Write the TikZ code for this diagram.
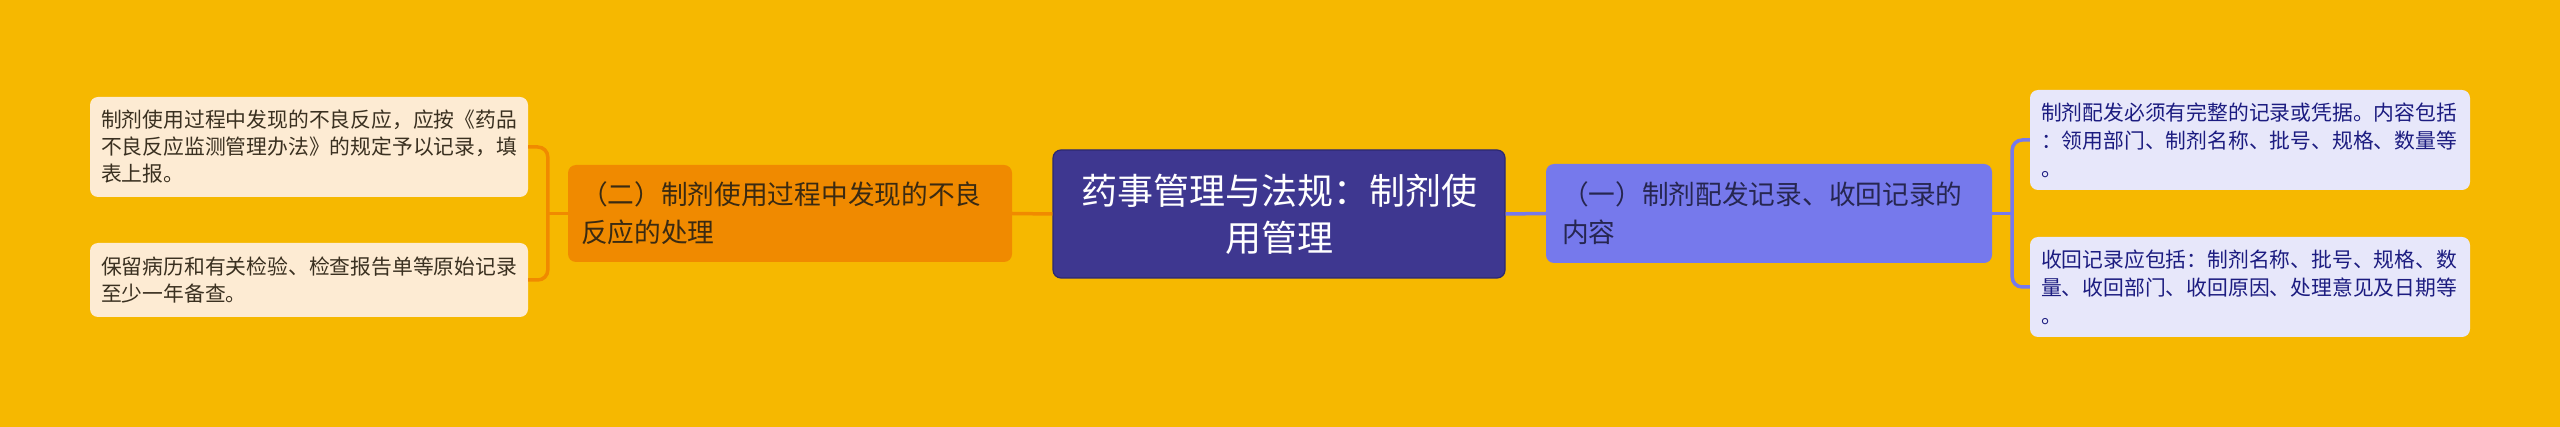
\documentclass[tikz,border=0pt]{standalone}
\usepackage{fontspec}
\setmainfont{Noto Sans CJK SC}
\definecolor{bgc}{HTML}{F6B800}
\definecolor{centralc}{HTML}{3E3790}
\definecolor{centralb}{HTML}{2C2870}
\definecolor{orangec}{HTML}{F08A00}
\definecolor{purplec}{HTML}{7679EC}
\definecolor{lleafc}{HTML}{FDEBD3}
\definecolor{rleafc}{HTML}{E7E7FA}
\definecolor{otext}{HTML}{3A2A12}
\definecolor{ptext}{HTML}{262650}
\definecolor{rtext}{HTML}{1C1C80}
\definecolor{ltext}{HTML}{3A3020}
\begin{document}
\begin{tikzpicture}[x=1pt,y=-1pt,
  basebox/.style={rectangle, rounded corners=8pt, inner ysep=0pt, anchor=center},
  centralbox/.style={basebox, fill=centralc, draw=centralb, line width=1.2pt, text=white,
    inner xsep=10pt, text width=432pt, minimum height=128pt, align=center,
    font=\fontsize{36pt}{47pt}\selectfont},
  orangebox/.style={basebox, fill=orangec, text=otext, inner xsep=13pt, text width=418pt,
    minimum height=97pt, align=left, font=\fontsize{26.7pt}{38pt}\selectfont},
  purplebox/.style={basebox, fill=purplec, text=ptext, inner xsep=16pt, text width=414pt,
    minimum height=99pt, align=left, font=\fontsize{26.7pt}{38pt}\selectfont},
  lleaf/.style={basebox, fill=lleafc, text=ltext, inner xsep=11pt, text width=416pt,
    align=left, font=\fontsize{20.8pt}{27pt}\selectfont},
  rleaf/.style={basebox, fill=rleafc, text=rtext, inner xsep=11pt, text width=418pt,
    align=left, font=\fontsize{20.8pt}{28pt}\selectfont},
  lconn/.style={draw=orangec, line width=3.5pt},
  rconn/.style={draw=purplec, line width=3.5pt}]
\fill[bgc] (0,0) rectangle (2560,427);
\useasboundingbox (0,0) rectangle (2560,427);

\node[centralbox] (central) at (1279,214) {药事管理与法规：制剂使\\用管理};
\node[orangebox] (orange) at (790,213.5) {（二）制剂使用过程中发现的不良\\反应的处理};
\node[purplebox] (purple) at (1769,213.5) {（一）制剂配发记录、收回记录的\\内容};

\node[lleaf, minimum height=100pt] (L1) at (309,147) {制剂使用过程中发现的不良反应，应按《药品\\不良反应监测管理办法》的规定予以记录，填\\表上报。};
\node[lleaf, minimum height=74pt] (L2) at (309,280) {保留病历和有关检验、检查报告单等原始记录\\至少一年备查。};

\node[rleaf, minimum height=100pt] (R1) at (2250,140) {制剂配发必须有完整的记录或凭据。内容包括\\：领用部门、制剂名称、批号、规格、数量等\\。};
\node[rleaf, minimum height=100pt] (R2) at (2250,287) {收回记录应包括：制剂名称、批号、规格、数\\量、收回部门、收回原因、处理意见及日期等\\。};

\draw[lconn] (central.west) -- (orange.east);
\draw[rconn] (central.east) -- (purple.west);

\draw[lconn] (orange.west) -- ++(-20,0) coordinate (lj);
\draw[lconn, rounded corners=10pt] (L1.east) -| (lj) |- (L2.east);

\draw[rconn] (purple.east) -- ++(20,0) coordinate (rj);
\draw[rconn, rounded corners=10pt] (R1.west) -| (rj) |- (R2.west);
\end{tikzpicture}
\end{document}
